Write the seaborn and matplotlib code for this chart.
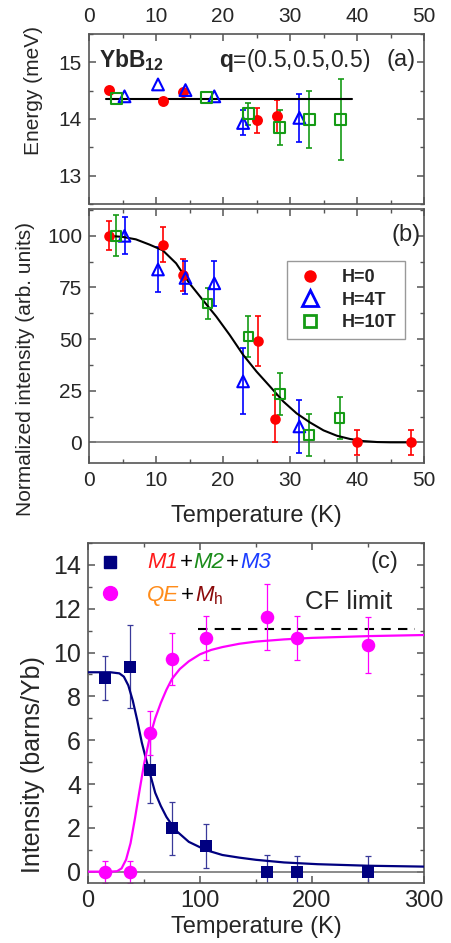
import numpy as np
import pandas as pd
import matplotlib
matplotlib.use("Agg")
import matplotlib.pyplot as plt
import seaborn as sns
from matplotlib.lines import Line2D
from matplotlib.ticker import MultipleLocator
from matplotlib.offsetbox import TextArea, HPacker, AnchoredOffsetbox

# ---------------- data: panel (a) ----------------
a_T_h0 = [3.0, 11.0, 14.1, 25.1, 28.0]
a_E_h0 = [14.52, 14.32, 14.47, 13.98, 14.05]
a_err_h0 = [0.0, 0.05, 0.0, 0.22, 0.29]
a_T_h4 = [5.3, 10.3, 14.4, 18.7, 23.0, 31.4]
a_E_h4 = [14.40, 14.61, 14.51, 14.40, 13.93, 14.02]
a_err_h4 = [0.0, 0.0, 0.0, 0.0, 0.22, 0.42]
a_T_h10 = [4.1, 17.5, 23.8, 28.5, 32.9, 37.6]
a_E_h10 = [14.36, 14.38, 14.09, 13.85, 13.99, 13.99]
a_err_h10 = [0.0, 0.0, 0.2, 0.3, 0.5, 0.71]
a_fit_T = [2.6, 39.2]
a_fit_E = [14.36, 14.36]

# ---------------- data: panel (b) ----------------
b_T_h0 = [3.0, 11.0, 14.1, 25.2, 27.8, 40.0, 48.0]
b_I_h0 = [100, 95.8, 81.0, 49.1, 11.4, 0.0, 0.0]
b_err_h0 = [7, 8.5, 7.7, 12, 11.4, 6, 6]
b_T_h4 = [5.3, 10.3, 14.4, 18.7, 23.0, 31.4]
b_I_h4 = [100, 83.7, 79.6, 77.0, 29.5, 7.7]
b_err_h4 = [9, 11, 8, 11, 16, 12.7]
b_T_h10 = [4.0, 17.7, 23.8, 28.5, 32.8, 37.4]
b_I_h10 = [100, 67.3, 51.2, 23.4, 3.5, 11.8]
b_err_h10 = [10, 7.5, 10, 10.2, 10, 10]
b_fit_T = [3, 5, 7, 9, 11, 13, 15, 17, 19, 21, 23, 25, 27, 29, 31, 33, 35, 37, 39, 41, 43, 45, 48]
b_fit_I = [100, 99.5, 98.3, 95.8, 93.0, 86.7, 77.0, 68.9, 60.9, 52.0, 42.4, 34.3, 27.1, 19.8,
           14.0, 9.6, 5.8, 3.2, 1.6, 0.6, 0.15, 0.02, 0.0]

# ---------------- data: panel (c) ----------------
c_T = [15.5, 37.2, 55.1, 75.3, 105.1, 159.5, 186.3, 250.3]
c_M = [8.83, 9.36, 4.63, 1.97, 1.17, 0.0, 0.0, 0.0]
c_M_err = [1.0, 1.9, 1.5, 1.2, 1.0, 0.76, 0.7, 0.7]
c_Q = [0.0, 0.0, 6.32, 9.71, 10.66, 11.63, 10.65, 10.35]
c_Q_err = [0.5, 0.5, 1.0, 1.2, 1.0, 1.5, 1.0, 1.27]
c_fitM_T = [0, 20, 28, 32, 36, 40, 44, 48, 52, 56, 60, 65, 70, 78, 90, 105, 120, 135, 150,
            175, 205, 250, 300]
c_fitM_I = [9.1, 9.1, 9.05, 8.9, 8.5, 7.8, 6.9, 5.9, 5.1, 4.35, 3.6, 3.0, 2.5, 1.9, 1.36,
            0.99, 0.76, 0.64, 0.54, 0.42, 0.34, 0.27, 0.23]
c_fitQ_T = [0, 20, 26, 30, 34, 38, 42, 46, 50, 55, 60, 65, 70, 75, 82, 90, 100, 110, 120,
            135, 150, 175, 200, 250, 300]
c_fitQ_I = [0, 0, 0.02, 0.15, 0.55, 1.3, 2.45, 3.7, 4.9, 6.1, 7.0, 7.7, 8.3, 8.8, 9.25, 9.6,
            9.92, 10.12, 10.25, 10.4, 10.5, 10.6, 10.67, 10.75, 10.8]
cf_T = [98, 292]
cf_I = [11.07, 11.07]

RED = "#ff0000"
BLUE = "#0000ff"
GREEN = "#159b15"
NAVY = "#000080"
MAG = "#ff00ff"
SPINE = "#555555"

sns.set_style("ticks")
plt.rcParams["font.family"] = ["Liberation Sans", "DejaVu Sans"]
plt.rcParams["mathtext.fontset"] = "custom"
plt.rcParams["mathtext.rm"] = "Liberation Sans"
plt.rcParams["mathtext.it"] = "Liberation Sans:italic"
plt.rcParams["mathtext.bf"] = "Liberation Sans:bold"

W, H = 451, 943
fig = plt.figure(figsize=(W / 100, H / 100), dpi=100)


def frac(l, t, r, b):
    return [l / W, 1 - b / H, (r - l) / W, (b - t) / H]


axA = fig.add_axes(frac(89, 34, 424, 204))
axB = fig.add_axes(frac(89, 209, 424, 463))
axC = fig.add_axes(frac(88, 543, 424, 882.6))


def style(ax, fs):
    for s in ax.spines.values():
        s.set_color(SPINE)
        s.set_linewidth(1.2)
    ax.tick_params(which="both", direction="in", top=True, right=True, color=SPINE,
                   labelsize=fs)
    ax.tick_params(which="major", length=5, width=1.1)
    ax.tick_params(axis="x", which="major", pad=6)
    ax.tick_params(axis="y", which="major", pad=5)
    ax.tick_params(which="minor", length=3, width=1)


def ebars(ax, x, y, e, color, lw=1.2, cap=2.2):
    xs = [a for a, b in zip(x, e) if b > 0]
    ys = [a for a, b in zip(y, e) if b > 0]
    es = [b for b in e if b > 0]
    if xs:
        ax.errorbar(xs, ys, yerr=es, fmt="none", ecolor=color, elinewidth=lw,
                    capsize=cap, capthick=lw, zorder=2)


def points(ax, x, y, marker, color, s, filled=True, lw=1.5):
    if filled:
        sns.scatterplot(x=x, y=y, ax=ax, marker=marker, s=s, color=color,
                        edgecolor=color, linewidth=0, zorder=4, legend=False)
    else:
        sns.scatterplot(x=x, y=y, ax=ax, marker=marker, s=s, facecolor="none",
                        edgecolor=color, linewidth=lw, zorder=4, legend=False)


# ---------------- panel (a) ----------------
sns.lineplot(x=a_fit_T, y=a_fit_E, ax=axA, color="black", lw=1.5, estimator=None,
             sort=False, zorder=3)
ebars(axA, a_T_h0, a_E_h0, a_err_h0, RED)
ebars(axA, a_T_h4, a_E_h4, a_err_h4, BLUE)
ebars(axA, a_T_h10, a_E_h10, a_err_h10, GREEN)
points(axA, a_T_h0, a_E_h0, "o", RED, 62)
points(axA, a_T_h4, a_E_h4, "^", BLUE, 72, filled=False)
points(axA, a_T_h10, a_E_h10, "s", GREEN, 62, filled=False)
axA.set_xlim(0, 50)
axA.set_ylim(12.5, 15.5)
axA.xaxis.set_major_locator(MultipleLocator(10))
axA.xaxis.set_minor_locator(MultipleLocator(5))
axA.yaxis.set_major_locator(MultipleLocator(1))
axA.yaxis.set_minor_locator(MultipleLocator(0.5))
style(axA, 15)
axA.tick_params(labeltop=True, labelbottom=False)
axA.set_xlabel("")
axA.set_ylabel("Energy (meV)", fontsize=15)
axA.yaxis.set_label_coords(-0.138, 0.665)
axA.text(0.03, 0.847, r"$\mathbf{YbB}_{\mathbf{12}}$", transform=axA.transAxes,
         ha="left", va="center", fontsize=16.5)
axA.text(0.389, 0.847, r"$\mathbf{q}$=(0.5,0.5,0.5)", transform=axA.transAxes,
         ha="left", va="center", fontsize=16.5)
axA.text(0.976, 0.847, "(a)", transform=axA.transAxes, ha="right", va="center",
         fontsize=17)

# ---------------- panel (b) ----------------
axB.axhline(0, color="#777777", lw=1.2, zorder=1)
sns.lineplot(x=b_fit_T, y=b_fit_I, ax=axB, color="black", lw=1.5, estimator=None,
             sort=False, zorder=3)
ebars(axB, b_T_h0, b_I_h0, b_err_h0, RED)
ebars(axB, b_T_h4, b_I_h4, b_err_h4, BLUE)
ebars(axB, b_T_h10, b_I_h10, b_err_h10, GREEN)
points(axB, b_T_h0, b_I_h0, "o", RED, 58)
points(axB, b_T_h4, b_I_h4, "^", BLUE, 70, filled=False)
points(axB, b_T_h10, b_I_h10, "s", GREEN, 48, filled=False)
axB.set_xlim(0, 50)
axB.set_ylim(-10, 113)
axB.xaxis.set_major_locator(MultipleLocator(10))
axB.xaxis.set_minor_locator(MultipleLocator(5))
axB.yaxis.set_major_locator(MultipleLocator(25))
axB.yaxis.set_minor_locator(MultipleLocator(12.5))
style(axB, 15)
axB.set_xlabel("Temperature (K)", fontsize=17)
axB.xaxis.set_label_coords(0.5, -0.167)
axB.set_ylabel("Normalized intensity (arb. units)", fontsize=15)
axB.yaxis.set_label_coords(-0.161, 0.37)
axB.text(0.99, 0.898, "(b)", transform=axB.transAxes, ha="right", va="center",
         fontsize=17)
handles = [
    Line2D([], [], marker="o", ls="", color=RED, markersize=9, markeredgewidth=0),
    Line2D([], [], marker="^", ls="", mfc="none", mec=BLUE, mew=2, markersize=11),
    Line2D([], [], marker="s", ls="", mfc="none", mec=GREEN, mew=2, markersize=8),
]
leg = axB.legend(handles, ["H=0", "H=4T", "H=10T"], loc="upper left",
                 bbox_to_anchor=(0.591, 0.795), frameon=True, fancybox=False,
                 edgecolor="#999999", framealpha=1,
                 prop={"family": "Liberation Sans", "weight": "bold", "size": 13},
                 handletextpad=1.0, borderpad=0.45, labelspacing=0.3,
                 handlelength=1.6, borderaxespad=0)
leg.get_frame().set_linewidth(1.0)

# ---------------- panel (c) ----------------
axC.axhline(0, color="#777777", lw=1.2, zorder=1)
sns.lineplot(x=cf_T, y=cf_I, ax=axC, color="black", lw=1.5, estimator=None, sort=False,
             zorder=2)
axC.lines[-1].set_dashes([4.5, 3.5])
sns.lineplot(x=c_fitM_T, y=c_fitM_I, ax=axC, color=NAVY, lw=1.6, estimator=None,
             sort=False, zorder=3)
sns.lineplot(x=c_fitQ_T, y=c_fitQ_I, ax=axC, color=MAG, lw=1.6, estimator=None,
             sort=False, zorder=3)
ebars(axC, c_T, c_M, c_M_err, "#3a3a9a", lw=0.9, cap=2)
ebars(axC, c_T, c_Q, c_Q_err, MAG, lw=0.9, cap=2)
points(axC, c_T, c_M, "s", NAVY, 80)
points(axC, c_T, c_Q, "o", MAG, 95)
axC.set_xlim(0, 300)
axC.set_ylim(-0.5, 15)
axC.xaxis.set_major_locator(MultipleLocator(100))
axC.xaxis.set_minor_locator(MultipleLocator(50))
axC.yaxis.set_major_locator(MultipleLocator(2))
axC.yaxis.set_minor_locator(MultipleLocator(1))
style(axC, 18)
axC.tick_params(axis="x", which="major", pad=5, labelsize=17)
axC.set_xlabel("Temperature (K)", fontsize=17)
axC.xaxis.set_label_coords(0.5, -0.098)
axC.set_ylabel("Intensity (barns/Yb)", fontsize=18)
axC.yaxis.set_label_coords(-0.128, 0.349)
axC.text(0.923, 0.944, "(c)", transform=axC.transAxes, ha="right", va="center",
         fontsize=17)
axC.text(0.646, 0.827, "CF limit", transform=axC.transAxes, ha="left", va="center",
         fontsize=18.5)

# legend-like markers and multi-coloured labels
axC.plot([0.065], [0.944], marker="s", ls="", color=NAVY, markersize=8,
         transform=axC.transAxes, clip_on=False)
axC.plot([0.065], [0.853], marker="o", ls="", color=MAG, markersize=10,
         transform=axC.transAxes, clip_on=False)


def colored_row(parts, fs):
    areas = []
    for txt, col, st in parts:
        areas.append(TextArea(txt, textprops=dict(color=col, fontsize=fs, fontstyle=st,
                                                  family="Liberation Sans")))
    return HPacker(children=areas, align="baseline", pad=0, sep=1)


row1 = colored_row([("M1", "#ff1a1a", "italic"), ("+", "black", "normal"),
                    ("M2", "#1a8c1a", "italic"), ("+", "black", "normal"),
                    ("M3", "#1a3cff", "italic")], 16)
row2 = colored_row([("QE", "#ff8c1a", "italic"), ("+", "black", "normal"),
                    (r"$M_{\mathrm{h}}$", "#8b0a0a", "normal")], 16)
for row, yy in ((row1, 0.944), (row2, 0.845)):
    ab = AnchoredOffsetbox(loc="center left", child=row, pad=0, borderpad=0,
                           frameon=False, bbox_to_anchor=(0.176, yy),
                           bbox_transform=axC.transAxes)
    axC.add_artist(ab)

fig.savefig("out.png", dpi=100)
